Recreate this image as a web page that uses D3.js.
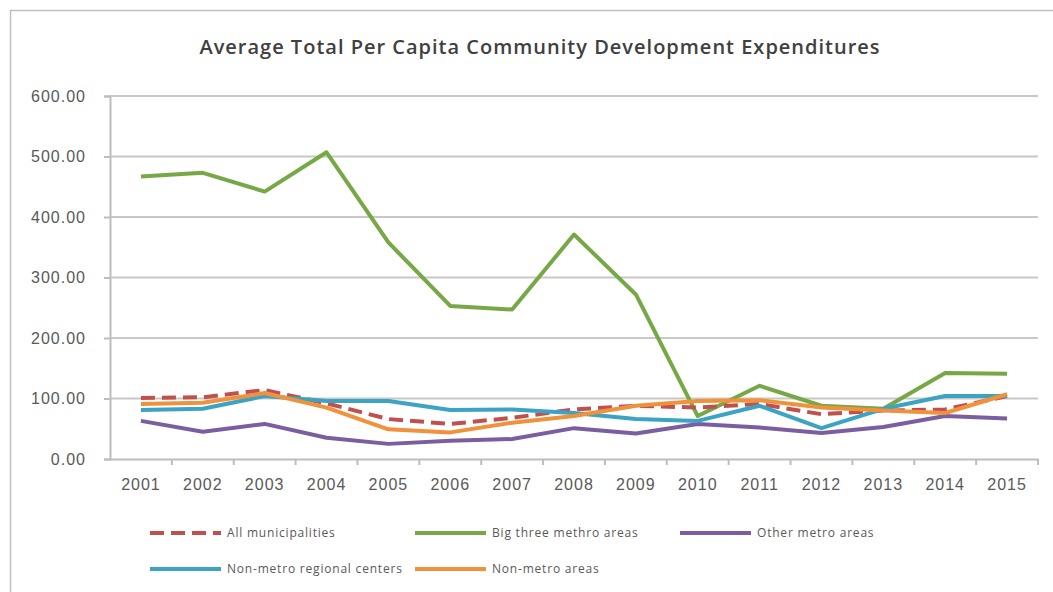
<!DOCTYPE html>
<html>
<head>
<meta charset="utf-8">
<script src="https://cdn.jsdelivr.net/npm/d3@7"></script>
<style>
  body { margin: 0; background: #fff; }
  svg { display: block; font-family: "Open Sans", "Liberation Sans", sans-serif; }
  .axis text { fill: #595959; font-size: 16px; letter-spacing: 1px; }
  .legend text { fill: #595959; font-size: 12px; letter-spacing: 0.8px; }
</style>
</head>
<body>
<svg width="1053" height="592"></svg>
<script>
const years = ["2001", "2002", "2003", "2004", "2005", "2006", "2007", "2008",
               "2009", "2010", "2011", "2012", "2013", "2014", "2015"];
const yTicks = [0, 100, 200, 300, 400, 500, 600];

const allMunicipalities = [101, 102, 114, 92, 66, 58, 68, 82, 88, 85, 91, 74, 80, 82, 104];
const bigThree = [467, 473, 442, 507, 358, 253, 247, 371, 272, 71, 121, 88, 83, 142, 141];
const otherMetro = [63, 45, 58, 35, 25, 30, 33, 51, 42, 58, 52, 43, 53, 71, 67];
const nonMetroCenters = [81, 83, 104, 96, 96, 81, 82, 76, 66, 63, 88, 51, 83, 104, 104];
const nonMetroAreas = [91, 93, 109, 85, 49, 44, 60, 71, 88, 96, 97, 85, 80, 76, 107];

const seriesNames = ["All municipalities", "Big three methro areas", "Other metro areas",
                     "Non-metro regional centers", "Non-metro areas"];
const seriesValues = [allMunicipalities, bigThree, otherMetro, nonMetroCenters, nonMetroAreas];
const seriesColors = ["#C0504D", "#77A846", "#7B5EA0", "#3DA3C2", "#F0913B"];

window.addEventListener("DOMContentLoaded", draw);

function draw() {
    const svg = d3.select("svg");
    const margin = { left: 110, right: 15, top: 96, bottom: 133 };
    const width = 1053 - margin.left - margin.right,
          height = 592 - margin.top - margin.bottom;

    // chart frame
    svg.append("rect")
        .attr("x", 10.5).attr("y", 10.5)
        .attr("width", 1060).attr("height", 600)
        .attr("fill", "none")
        .attr("stroke", "#bfbfbf")
        .attr("stroke-width", 1.5);

    svg.append("text")
        .attr("x", 540).attr("y", 54)
        .attr("text-anchor", "middle")
        .attr("font-size", "20px")
        .attr("font-weight", 600)
        .attr("letter-spacing", "1px")
        .attr("fill", "#404040")
        .text("Average Total Per Capita Community Development Expenditures");

    const chart = svg.append("g")
        .attr("transform", `translate(${margin.left},${margin.top})`);

    const x = d3.scaleBand().domain(years).range([0, width]);
    const y = d3.scaleLinear().domain([0, 600]).range([height, 0]);

    // gridlines
    chart.append("g")
        .selectAll("line")
        .data(yTicks.filter((d) => d > 0))
        .enter().append("line")
        .attr("x1", 0).attr("x2", width)
        .attr("y1", (d) => y(d)).attr("y2", (d) => y(d))
        .attr("stroke", "#c8c8c8")
        .attr("stroke-width", 2);

    const yAxis = chart.append("g")
        .attr("class", "axis")
        .call(d3.axisLeft(y).tickValues(yTicks).tickFormat(d3.format(".2f"))
              .tickSize(6).tickPadding(18));
    yAxis.selectAll("line, path").attr("stroke", "#bdbdbd").attr("stroke-width", 2);

    const xAxis = chart.append("g")
        .attr("class", "axis")
        .attr("transform", `translate(0,${height})`)
        .call(d3.axisBottom(x).tickSizeOuter(0).tickSize(0).tickPadding(20));
    xAxis.select("path").attr("stroke", "#bdbdbd").attr("stroke-width", 2);

    // tick marks between categories
    chart.append("g")
        .selectAll("line")
        .data(years)
        .enter().append("line")
        .attr("x1", (d, i) => (i + 1) * x.bandwidth())
        .attr("x2", (d, i) => (i + 1) * x.bandwidth())
        .attr("y1", height).attr("y2", height + 6)
        .attr("stroke", "#bdbdbd")
        .attr("stroke-width", 2);

    const line = d3.line()
        .x((d, i) => x(years[i]) + x.bandwidth() / 2)
        .y((d) => y(d));

    // drawing order: dashed series sits under the orange one in the picture
    const order = [1, 2, 0, 3, 4];
    order.forEach(function(s) {
        chart.append("path")
            .attr("d", line(seriesValues[s]))
            .attr("fill", "none")
            .attr("stroke", seriesColors[s])
            .attr("stroke-width", 4)
            .attr("stroke-linejoin", "round")
            .attr("stroke-dasharray", s == 0 ? "14,7" : null);
    });

    // legend
    const legendPos = [[150, 533], [415, 533], [680, 533], [150, 569], [415, 569]];
    const legend = svg.append("g").attr("class", "legend");
    seriesNames.forEach(function(name, i) {
        const g = legend.append("g")
            .attr("transform", `translate(${legendPos[i][0]},${legendPos[i][1]})`);
        g.append("line")
            .attr("x1", 0).attr("x2", 71)
            .attr("y1", 0).attr("y2", 0)
            .attr("stroke", seriesColors[i])
            .attr("stroke-width", 4)
            .attr("stroke-dasharray", i == 0 ? "14,7" : null);
        g.append("text")
            .attr("x", 77).attr("y", 4)
            .text(name);
    });
}
</script>
</body>
</html>
